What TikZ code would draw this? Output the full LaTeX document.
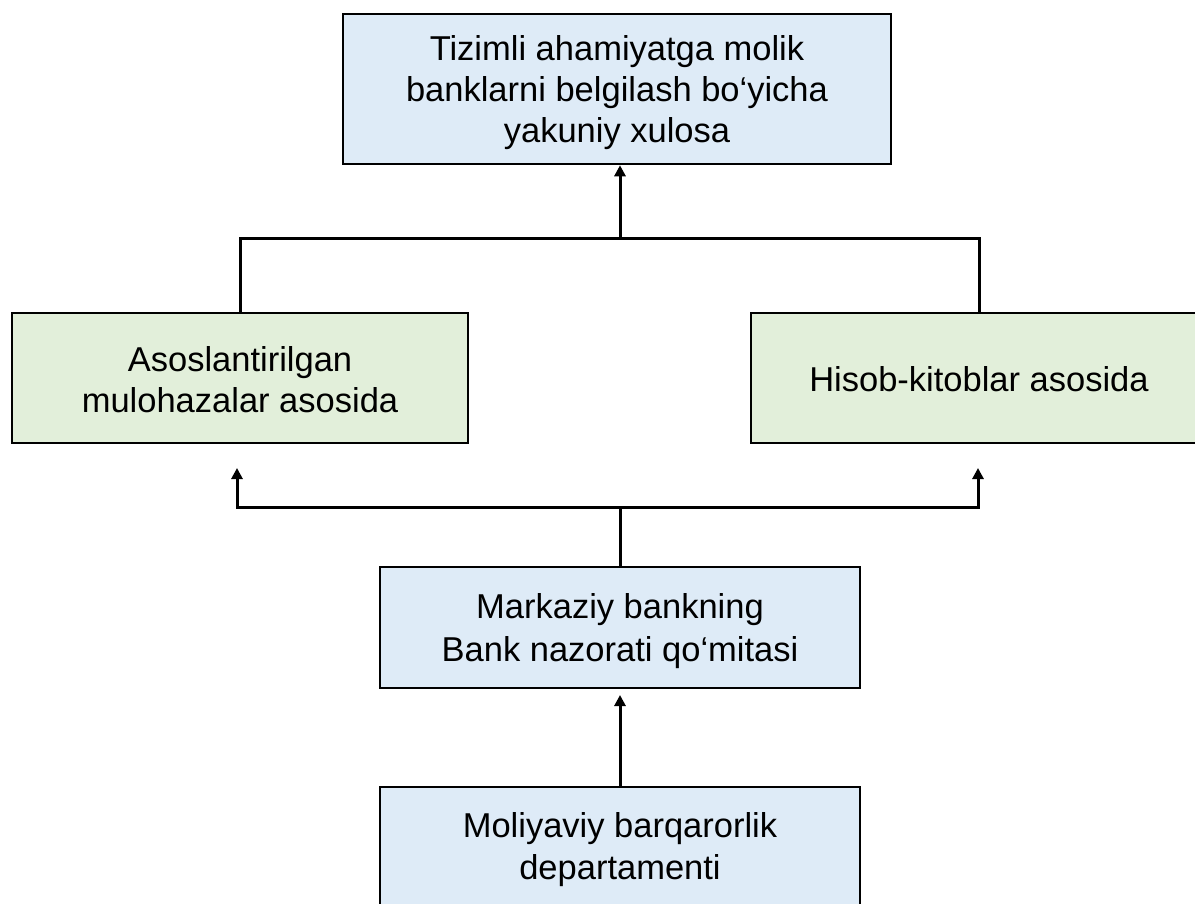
\documentclass[tikz,border=0pt]{standalone}
\usepackage{fontspec}
\setmainfont{Liberation Sans}
\usetikzlibrary{arrows.meta}
\definecolor{boxblue}{HTML}{DEEBF7}
\definecolor{boxgreen}{HTML}{E2EFDA}
\tikzset{
  box/.style={draw=black, line width=2.5pt, rectangle, inner sep=0pt},
  bluebox/.style={box, fill=boxblue},
  greenbox/.style={box, fill=boxgreen},
  txt/.style={align=center, inner sep=0pt, font=\fontsize{34.5pt}{#1}\selectfont},
  txt/.default=41pt,
  conn/.style={line width=3pt, black},
  arr/.style={conn, -{Triangle[width=11pt,length=11pt]}}
}
\begin{document}
\begin{tikzpicture}[x=1pt,y=-1pt]
\clip (0,0) rectangle (1195,903);
\fill[white] (0,0) rectangle (1195,903);
% boxes
\node[bluebox, minimum width=548pt, minimum height=150pt] (top) at (617,89) {};
\node[greenbox, minimum width=456pt, minimum height=130pt] (left) at (240,378) {};
\node[greenbox, minimum width=456pt, minimum height=130pt] (right) at (979,378) {};
\node[bluebox, minimum width=480pt, minimum height=121pt] (mid) at (620,627.5) {};
\node[bluebox, minimum width=480pt, minimum height=121pt] (bot) at (620,847.5) {};
% texts
\node[txt=41pt] (topT) at ([yshift=-3.5pt]top.center)
  {Tizimli ahamiyatga molik\\banklarni belgilash bo‘yicha\\yakuniy xulosa};
\node[txt=41pt] (leftT) at ([yshift=-1.5pt]left.center)
  {Asoslantirilgan\\mulohazalar asosida};
\node[txt=41pt] (rightT) at ([yshift=-1pt]right.center)
  {Hisob-kitoblar asosida};
\node[txt=43pt] (midT) at ([yshift=-3.5pt]mid.center)
  {Markaziy bankning\\Bank nazorati qo‘mitasi};
\node[txt=42pt] (botT) at ([yshift=-2.5pt]bot.center)
  {Moliyaviy barqarorlik\\departamenti};
% upper connector
\coordinate (j1) at (620,238);
\draw[conn] (left.north) |- (j1) -| (right.north);
\draw[arr] (j1) -- (j1 |- top.south);
% lower connector
\coordinate (j2) at (620,507);
\coordinate (la) at (237,468);
\coordinate (ra) at (978,468);
\draw[conn] (mid.north) -- (j2);
\draw[arr] (j2) -| (la);
\draw[arr] (j2) -| (ra);
% bottom arrow
\coordinate (ma) at (620,695);
\draw[arr] (bot.north) -- (ma);
\end{tikzpicture}
\end{document}
